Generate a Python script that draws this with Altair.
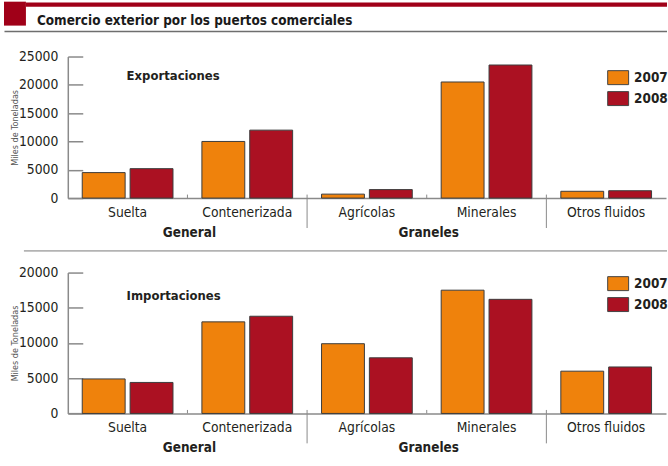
import altair as alt
import pandas as pd

cats = ["Suelta", "Contenerizada", "Agrícolas", "Minerales", "Otros fluidos"]
years = ["2007", "2008"]
exp_2007 = [4500, 10000, 700, 20500, 1200]
exp_2008 = [5200, 12000, 1500, 23500, 1300]
imp_2007 = [4900, 13000, 9900, 17500, 6000]
imp_2008 = [4400, 13800, 7900, 16200, 6600]
group_labels = ["General", "Graneles"]
group_at = ["Contenerizada", "Minerales"]
short_seps = ["Contenerizada", "Minerales"]
long_seps = ["Agrícolas", "Otros fluidos"]
main_title = "Comercio exterior por los puertos comerciales"
y_title = "Miles de Toneladas"

FONT = "DejaVu Sans Condensed, DejaVu Sans, sans-serif"
ORANGE = "#ef820c"
RED = "#ab1122"
DARKRED = "#a00018"
GRAY = "#8a8a8a"
TXT = "#231f20"
W = 600


def xenc(**kw):
    return alt.X("cat:N", sort=cats, title=None,
                 scale=alt.Scale(domain=cats, paddingInner=0, paddingOuter=0), **kw)


def panel(v07, v08, ptitle, ymax, height, legend_y, title_base, header):
    df = pd.DataFrame({
        "cat": cats * 2,
        "year": [years[0]] * len(cats) + [years[1]] * len(cats),
        "value": v07 + v08,
    })
    bars = alt.Chart(df).mark_bar(stroke="#3c3c3c", strokeWidth=1).encode(
        x=xenc(axis=alt.Axis(labelAngle=0, ticks=False, tickSize=0, labelPadding=7,
                             labelFont=FONT, labelFontSize=13.8, labelColor=TXT,
                             domainColor=GRAY, domainWidth=1.5, grid=False)),
        xOffset=alt.XOffset("year:N", scale=alt.Scale(domain=years, paddingInner=0.104,
                                                      paddingOuter=0.302)),
        y=alt.Y("value:Q", scale=alt.Scale(domain=[0, ymax], nice=False),
                axis=alt.Axis(values=list(range(0, ymax + 1, 5000)), format="d",
                              title=y_title, titleFont=FONT, titleFontSize=9,
                              titleFontWeight="normal", titleColor="#555555",
                              titleX=-53.5, titleY=height / 2, titleAngle=-90,
                              titleBaseline="middle", titleAlign="center",
                              ticks=False, tickSize=0, labelPadding=10,
                              labelFont=FONT, labelFontSize=13.8, labelColor=TXT,
                              domainColor=GRAY, domainWidth=1.5,
                              grid=True, gridColor=GRAY, gridWidth=1.5,
                              gridDash=[15, 2000])),
        color=alt.Color("year:N", scale=alt.Scale(domain=years, range=[ORANGE, RED]),
                        legend=alt.Legend(title=None, orient="none", legendX=541,
                                          legendY=legend_y, padding=0,
                                          symbolType="M-1,-0.667L1,-0.667L1,0.667L-1,0.667Z",
                                          symbolSize=441, symbolStrokeColor="#444444",
                                          symbolStrokeWidth=1, symbolOpacity=1,
                                          labelFont=FONT, labelFontSize=13.5,
                                          labelFontWeight="bold", labelColor=TXT,
                                          labelOffset=5, rowPadding=0)),
    )
    short = alt.Chart(pd.DataFrame({"cat": short_seps})).mark_rule(
        color=GRAY, strokeWidth=1).encode(
        x=xenc(bandPosition=0), y=alt.value(height - 3.5), y2=alt.value(height))
    longr = alt.Chart(pd.DataFrame({"cat": long_seps})).mark_rule(
        color=GRAY, strokeWidth=1).encode(
        x=xenc(bandPosition=0), y=alt.value(height - 3.5), y2=alt.value(height + 30))
    groups = alt.Chart(pd.DataFrame({"cat": group_at, "lab": group_labels})).mark_text(
        font=FONT, fontSize=13.5, fontWeight="bold", color=TXT, baseline="alphabetic",
        align="center", dx=2).encode(
        x=xenc(bandPosition=0), y=alt.value(height + 38.7), text="lab:N")
    ptext = alt.Chart(pd.DataFrame({"t": [ptitle]})).mark_text(
        font=FONT, fontSize=13, fontWeight="bold", color=TXT, align="left",
        baseline="alphabetic").encode(x=alt.value(59), y=alt.value(title_base), text="t:N")
    one = pd.DataFrame({"a": [0]})
    layers = [bars, short, longr, groups, ptext]
    if header:
        layers += [
            alt.Chart(one).mark_rect(color=DARKRED).encode(
                x=alt.value(-64), x2=alt.value(-42), y=alt.value(-55), y2=alt.value(-31)),
            alt.Chart(one).mark_rect(color=DARKRED).encode(
                x=alt.value(-42), x2=alt.value(601), y=alt.value(-54.3), y2=alt.value(-50)),
            alt.Chart(one).mark_rule(color="#6e6e6e", strokeWidth=1.5).encode(
                x=alt.value(-63.5), x2=alt.value(601), y=alt.value(-25)),
            alt.Chart(pd.DataFrame({"t": [main_title]})).mark_text(
                font=FONT, fontSize=13.5, fontWeight="bold", color="#1a1a1a",
                align="left", baseline="alphabetic").encode(
                x=alt.value(-31), y=alt.value(-31.7), text="t:N"),
        ]
    else:
        layers += [
            alt.Chart(one).mark_rule(color="#7a7a7a", strokeWidth=1).encode(
                x=alt.value(-44), x2=alt.value(601), y=alt.value(-21.7)),
        ]
    return alt.layer(*layers).properties(width=W, height=height)


top = panel(exp_2007, exp_2008, "Exportaciones", 25000, 142, 10.2, 24, True)
bottom = panel(imp_2007, imp_2008, "Importaciones", 20000, 141.3, 0.1, 28, False)

chart = alt.vconcat(top, bottom, spacing=74.7, bounds="flush").resolve_scale(
    color="independent", y="independent", x="independent"
).resolve_legend(color="independent").properties(
    padding={"left": 3, "top": 1, "right": 0, "bottom": 0}
).configure_view(stroke=None)

chart.save("out.html", embed_options={"renderer": "svg", "actions": False})
